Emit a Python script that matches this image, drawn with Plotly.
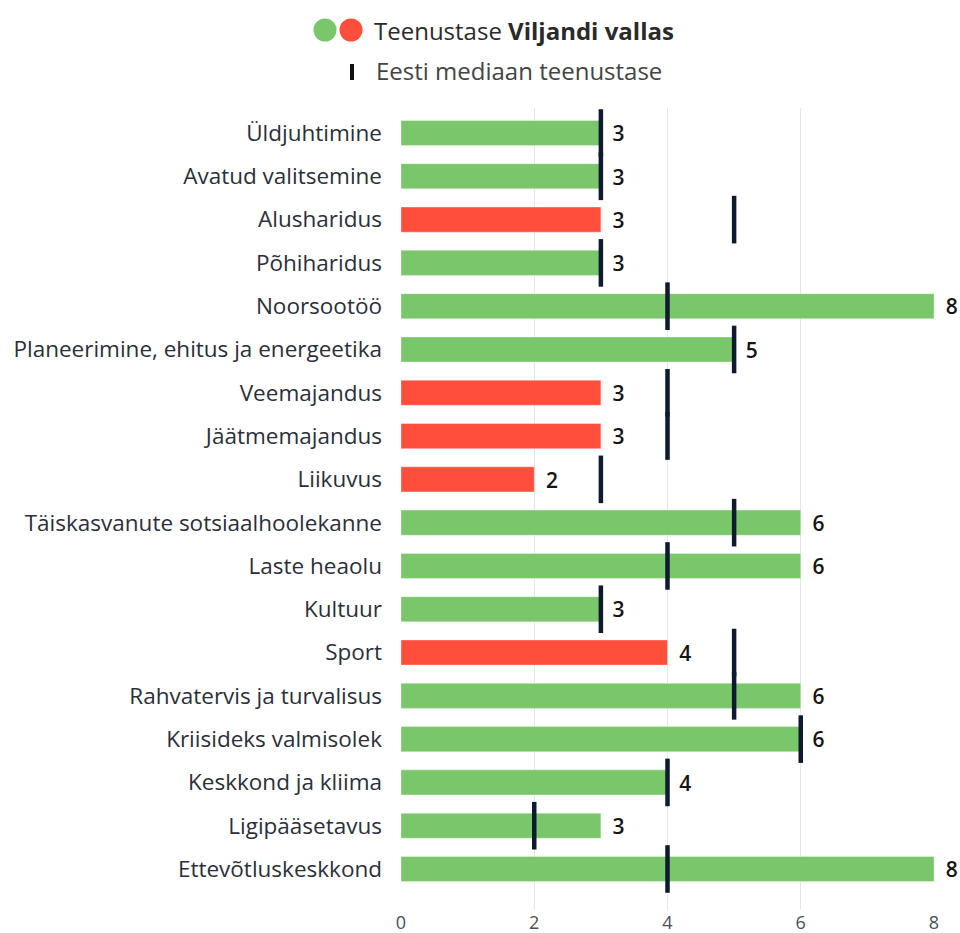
import plotly.graph_objects as go

categories = [
    "Üldjuhtimine", "Avatud valitsemine", "Alusharidus", "Põhiharidus", "Noorsootöö",
    "Planeerimine, ehitus ja energeetika", "Veemajandus", "Jäätmemajandus", "Liikuvus",
    "Täiskasvanute sotsiaalhoolekanne", "Laste heaolu", "Kultuur", "Sport",
    "Rahvatervis ja turvalisus", "Kriisideks valmisolek", "Keskkond ja kliima",
    "Ligipääsetavus", "Ettevõtluskeskkond",
]
values = [3, 3, 3, 3, 8, 5, 3, 3, 2, 6, 6, 3, 4, 6, 6, 4, 3, 8]
medians = [3, 3, 5, 3, 4, 5, 4, 4, 3, 5, 4, 3, 5, 5, 6, 4, 2, 4]
x_ticks = [0, 2, 4, 6, 8]

GREEN = "#7AC66B"
RED = "#FF4F3C"
DARK = "#0E1A2E"
FONT = "Open Sans"

colors = [GREEN if v >= m else RED for v, m in zip(values, medians)]

# layout geometry (pixels)
W, H = 960, 933
L, R, T, B = 401, 26, 108, 23
PW, PH = W - L - R, H - T - B
Y_RANGE = [len(categories) - 1 + 0.947, -0.578]
LABEL_SHIFT = 3 / (PH / (Y_RANGE[0] - Y_RANGE[1]))  # nudge value labels 3px down


def px_x(p):
    return (p - L) / PW


def px_y(p):
    return 1 - (p - T) / PH


fig = go.Figure()
fig.add_trace(go.Bar(
    y=categories, x=values, orientation="h",
    marker=dict(color=colors, line=dict(color="rgba(255,255,255,0.35)", width=1)),
    width=0.58, hoverinfo="skip", showlegend=False,
))
fig.add_trace(go.Scatter(
    y=categories, x=medians, mode="markers",
    marker=dict(symbol="line-ns", size=34, line=dict(width=4.5, color=DARK), color=DARK),
    hoverinfo="skip", showlegend=False, cliponaxis=False,
))
fig.add_trace(go.Scatter(
    y=categories, x=values, mode="text+markers", yaxis="y2",
    marker=dict(size=17, opacity=0),
    text=[str(v) for v in values], textposition="middle right",
    textfont=dict(family=FONT, size=21, color="#151515", weight=600),
    hoverinfo="skip", showlegend=False, cliponaxis=False,
))

shapes = []
annotations = []
# custom legend
r = 11.5
for cx, col in [(325, GREEN), (351, RED)]:
    shapes.append(dict(type="circle", xref="paper", yref="paper",
                       x0=px_x(cx - r), x1=px_x(cx + r), y0=px_y(30 + r), y1=px_y(30 - r),
                       fillcolor=col, line=dict(width=0), layer="above"))
shapes.append(dict(type="rect", xref="paper", yref="paper",
                   x0=px_x(350), x1=px_x(354), y0=px_y(80), y1=px_y(64),
                   fillcolor="#111111", line=dict(width=0), layer="above"))
annotations.append(dict(xref="paper", yref="paper", x=px_x(372), y=px_y(31),
                        xanchor="left", yanchor="middle", showarrow=False,
                        text="Teenustase <b>Viljandi vallas</b>",
                        font=dict(family=FONT, size=24, color="#2a2a2a")))
annotations.append(dict(xref="paper", yref="paper", x=px_x(374), y=px_y(71),
                        xanchor="left", yanchor="middle", showarrow=False,
                        text="Eesti mediaan teenustase",
                        font=dict(family=FONT, size=24, color="#444444")))

fig.update_layout(
    width=W, height=H,
    margin=dict(l=L, r=R, t=T, b=B, autoexpand=False),
    plot_bgcolor="white", paper_bgcolor="white",
    font=dict(family=FONT, color="#333333"),
    shapes=shapes, annotations=annotations,
    xaxis=dict(range=[0, 8], tickvals=x_ticks, showgrid=True, gridcolor="#E6E6E6",
               gridwidth=1, zeroline=False, showline=False, automargin=False,
               tickfont=dict(family=FONT, size=18, color="#4a4f5a"),
               ticks="", ticklabelstandoff=0, fixedrange=True),
    yaxis=dict(categoryorder="array", categoryarray=categories,
               range=Y_RANGE, automargin=False,
               showgrid=False, zeroline=False, showline=False,
               tickfont=dict(family=FONT, size=22.5, color="#2b2f3a"),
               ticklabelstandoff=18, fixedrange=True),
    yaxis2=dict(categoryorder="array", categoryarray=categories, overlaying="y",
                range=[Y_RANGE[0] - LABEL_SHIFT, Y_RANGE[1] - LABEL_SHIFT],
                automargin=False, visible=False, fixedrange=True),
)

fig.write_html(
    "out.html",
    config={"displayModeBar": False},
    post_script="document.body.style.margin='0';document.body.style.overflow='hidden';",
)
